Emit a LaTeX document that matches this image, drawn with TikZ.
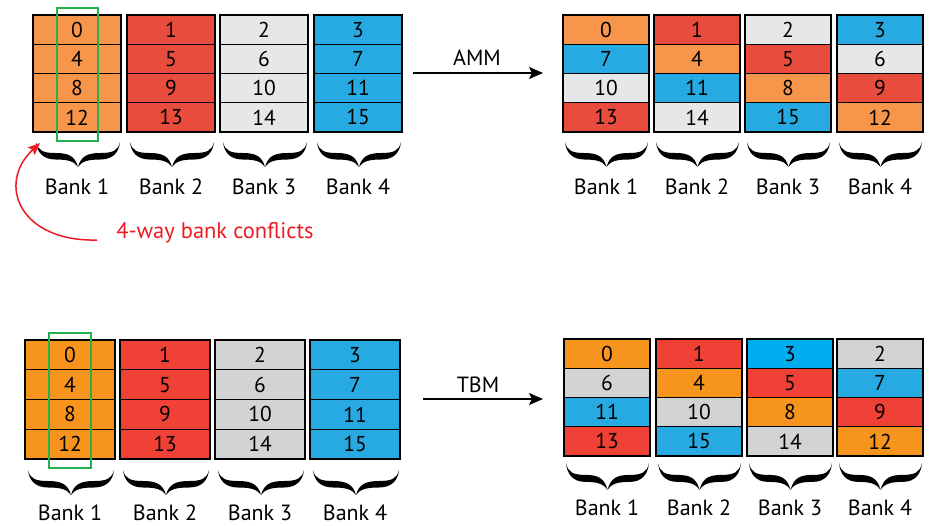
\documentclass[tikz,border=0pt]{standalone}
\usepackage{fontspec}
\setmainfont{PT Sans}
\usetikzlibrary{arrows.meta,fit}
\definecolor{oA}{HTML}{F7964A}
\definecolor{rA}{HTML}{E84C3D}
\definecolor{gA}{HTML}{E6E7E8}
\definecolor{bA}{HTML}{27AAE1}
\definecolor{oB}{HTML}{F7941D}
\definecolor{rB}{HTML}{EF4136}
\definecolor{gB}{HTML}{D1D3D4}
\definecolor{bB}{HTML}{27AAE1}
\definecolor{cB}{HTML}{00AEEF}
\definecolor{hiGreen}{HTML}{22B14C}
\definecolor{confRed}{HTML}{ED1C24}
\tikzset{
  cell/.style={draw=black, line width=1.2pt, inner sep=0pt, outer sep=0pt,
    font=\fontsize{21.5}{24}\selectfont, text=black},
  bankframe/.style={draw=black, line width=2pt, inner sep=0pt, outer sep=0pt},
  banklabel/.style={font=\fontsize{22}{25}\selectfont, inner sep=0pt},
  hilite/.style={draw=hiGreen, line width=1.5pt},
  mainarrow/.style={line width=1.6pt, -{Stealth[length=14pt,width=12pt,inset=3pt]}},
  arrowlabel/.style={font=\fontsize{22}{24}\selectfont, inner sep=0pt},
  redarrow/.style={draw=confRed, line width=1.5pt, -{Stealth[length=12pt,width=10pt,inset=2pt]}},
  conflabel/.style={font=\fontsize{22.5}{24}\selectfont, text=confRed, inner sep=0pt},
}
% #1 name, #2 left x, #3 top y, #4 width, #5 row height, #6 list num/colour
\newcommand\bankcol[6]{%
  \foreach \n/\c [count=\i] in {#6} {
    \node[cell, fill=\c, minimum width=#4pt, minimum height=#5pt] (#1-\i)
      at ({#2+#4/2},{#3+(\i-0.5)*#5}) {\n};
  }
  \node[bankframe, fit=(#1-1)(#1-4)] (#1) {};
}
% #1 left x, #2 top y, #3 width, #4 height
\newcommand\bankbrace[4]{%
  \begin{scope}[shift={(#1,#2)}, xscale={#3/86}, yscale={#4/25}]
    \fill (0,0) .. controls (2,9) and (8,11) .. (20,11)
      .. controls (33,11) and (40,14) .. (43,25)
      .. controls (39,19) and (32,17.5) .. (20,17.5)
      .. controls (7,17.5) and (1,10) .. (0,0) -- cycle;
    \fill (86,0) .. controls (84,9) and (78,11) .. (66,11)
      .. controls (53,11) and (46,14) .. (43,25)
      .. controls (47,19) and (54,17.5) .. (66,17.5)
      .. controls (79,17.5) and (85,10) .. (86,0) -- cycle;
  \end{scope}
}
\begin{document}
\begin{tikzpicture}[x=1pt,y=-1pt]
\path[use as bounding box, fill=white] (0,0) rectangle (936,525);

% ---------- top left ----------
\bankcol{tla}{33}{15}{88}{29.25}{0/oA,4/oA,8/oA,12/oA}
\bankcol{tlb}{127}{15}{88}{29.25}{1/rA,5/rA,9/rA,13/rA}
\bankcol{tlc}{220}{15}{88}{29.25}{2/gA,6/gA,10/gA,14/gA}
\bankcol{tld}{314}{15}{88}{29.25}{3/bA,7/bA,11/bA,15/bA}
\draw[hilite] (57,8) rectangle (98,141);
\bankbrace{36}{142}{84}{25}
\bankbrace{130}{142}{84}{25}
\bankbrace{223}{142}{84}{25}
\bankbrace{317}{142}{84}{25}
\node[banklabel] (tlla) at (77,187) {Bank 1};
\node[banklabel] (tllb) at (171,187) {Bank 2};
\node[banklabel] (tllc) at (264,187) {Bank 3};
\node[banklabel] (tlld) at (358,187) {Bank 4};

\node[conflabel] (conf) at (215,233) {4-way bank conflicts};
\coordinate (redstart) at (97,240);
\coordinate (redend) at (40,143);
\draw[redarrow] (redstart) .. controls (20,242) and (-4,184) .. (redend);

% AMM arrow
\coordinate (ammfrom) at (413,73);
\coordinate (ammto) at (543,73);
\draw[mainarrow] (ammfrom) -- (ammto);
\node[arrowlabel] (amm) at (477,58) {AMM};

% ---------- top right ----------
\bankcol{tra}{563}{15}{86}{29.25}{0/oA,7/bA,10/gA,13/rA}
\bankcol{trb}{654}{15}{86}{29.25}{1/rA,4/oA,11/bA,14/gA}
\bankcol{trc}{745}{15}{86}{29.25}{2/gA,5/rA,8/oA,15/bA}
\bankcol{trd}{837}{15}{86}{29.25}{3/bA,6/gA,9/rA,12/oA}
\bankbrace{565}{142}{83}{25}
\bankbrace{656}{142}{83}{25}
\bankbrace{747}{142}{83}{25}
\bankbrace{839}{142}{83}{25}
\node[banklabel] (trla) at (606,187) {Bank 1};
\node[banklabel] (trlb) at (697,187) {Bank 2};
\node[banklabel] (trlc) at (788,187) {Bank 3};
\node[banklabel] (trld) at (880,187) {Bank 4};

% ---------- bottom left ----------
\bankcol{bla}{25}{340}{90}{29.75}{0/oB,4/oB,8/oB,12/oB}
\bankcol{blb}{120}{340}{90}{29.75}{1/rB,5/rB,9/rB,13/rB}
\bankcol{blc}{215}{340}{90}{29.75}{2/gB,6/gB,10/gB,14/gB}
\bankcol{bld}{310}{340}{90}{29.75}{3/bB,7/bB,11/bB,15/bB}
\draw[hilite] (49,333) rectangle (91,468);
\bankbrace{28}{470}{86}{25}
\bankbrace{123}{470}{86}{25}
\bankbrace{218}{470}{86}{25}
\bankbrace{313}{470}{86}{25}
\node[banklabel] (blla) at (70,513) {Bank 1};
\node[banklabel] (bllb) at (165,513) {Bank 2};
\node[banklabel] (bllc) at (260,513) {Bank 3};
\node[banklabel] (blld) at (355,513) {Bank 4};

% TBM arrow
\coordinate (tbmfrom) at (423,399);
\coordinate (tbmto) at (543,399);
\draw[mainarrow] (tbmfrom) -- (tbmto);
\node[arrowlabel] (tbm) at (478,385) {TBM};

% ---------- bottom right ----------
\bankcol{bra}{564}{339}{86}{29.25}{0/oB,6/gB,11/bB,13/rB}
\bankcol{brb}{656}{339}{86}{29.25}{1/rB,4/oB,10/gB,15/bB}
\bankcol{brc}{747}{339}{86}{29.25}{3/cB,5/rB,8/oB,14/gB}
\bankcol{brd}{837}{339}{86}{29.25}{2/gB,7/bB,9/rB,12/oB}
\bankbrace{566}{463}{83}{27}
\bankbrace{658}{463}{83}{27}
\bankbrace{749}{463}{83}{27}
\bankbrace{839}{463}{83}{27}
\node[banklabel] (brla) at (607,508) {Bank 1};
\node[banklabel] (brlb) at (699,508) {Bank 2};
\node[banklabel] (brlc) at (790,508) {Bank 3};
\node[banklabel] (brld) at (880,508) {Bank 4};
\end{tikzpicture}
\end{document}
